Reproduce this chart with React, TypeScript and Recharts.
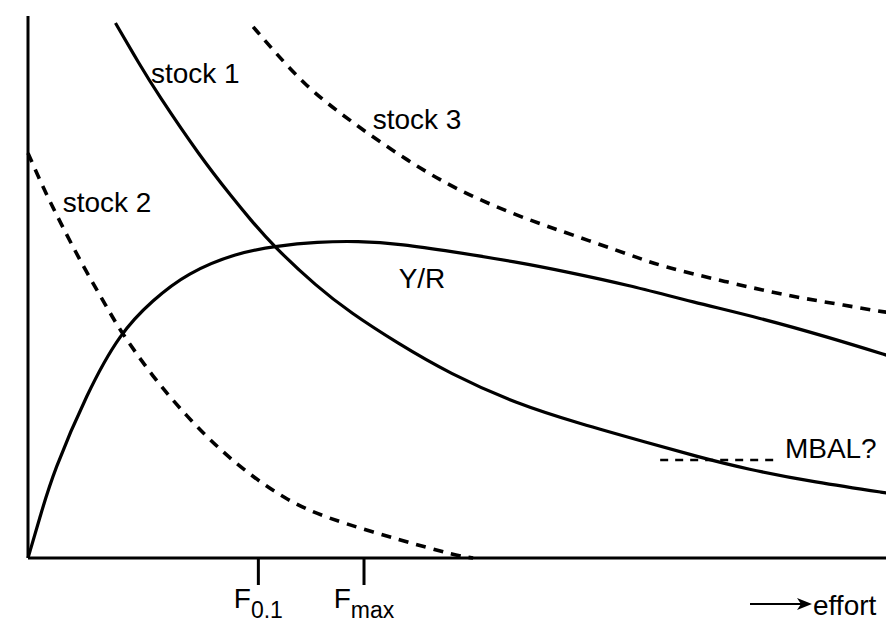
import { LineChart, Line, XAxis, YAxis, ReferenceDot, Label } from 'recharts'

// effort on x (0-100), relative level on y (0-100)
const stock1: [number, number][] = [
  [10.1, 98.7], [12.9, 91.0], [14.9, 85.8], [19.9, 74.0], [23.7, 66.3],
  [25.6, 62.6], [28.3, 57.6], [33.4, 50.0], [37.2, 45.3], [42.6, 39.7],
  [48.7, 34.0], [56.5, 28.4], [63.7, 24.8], [71.5, 21.3], [77.3, 18.7],
  [83.0, 16.4], [90.7, 14.0], [100, 11.8],
]

const stock2: [number, number][] = [
  [0, 74.7], [1.7, 68.5], [3.7, 62.0], [6.4, 53.7], [9.5, 45.2],
  [10.6, 42.1], [14.4, 33.4], [18.4, 26.0], [22.2, 19.9], [26.0, 14.9],
  [29.9, 10.7], [34.3, 7.4], [43.0, 3.3], [49.5, 0.4], [51.4, 0],
]

const stock3: [number, number][] = [
  [26.0, 98.0], [28.3, 93.7], [32.2, 86.9], [36.0, 82.1], [39.8, 77.7],
  [43.8, 73.4], [47.6, 69.7], [51.4, 66.6], [57.2, 62.7], [62.9, 59.6],
  [69.9, 55.7], [73.0, 53.9], [80.7, 50.9], [88.3, 48.2], [93.0, 47.0],
  [98.7, 45.4], [100, 45.2],
]

const yieldPerRecruit: [number, number][] = [
  [0, 0], [1.5, 8.2], [2.9, 15.7], [6.8, 30.4], [10.6, 41.5], [14.4, 47.6],
  [18.4, 52.6], [24.1, 56.3], [28.8, 57.6], [33.4, 58.3], [38.0, 58.5],
  [43.3, 57.9], [48.7, 56.6], [56.5, 54.6], [62.2, 52.8], [69.2, 50.4],
  [76.8, 47.2], [84.5, 44.3], [92.3, 40.8], [100, 37.0],
]

const mbal: [number, number][] = [[73.0, 18.1], [86.3, 18.1]]

const refTicks = [26.6, 38.8]
const refSubscripts = ['0.1', 'max']

const curveLabels = [
  { text: 'stock 1', x: 14.2, y: 87.6 },
  { text: 'stock 2', x: 4.0, y: 63.8 },
  { text: 'stock 3', x: 39.8, y: 79.2 },
  { text: 'Y/R', x: 42.8, y: 49.8 },
  { text: 'MBAL?', x: 87.4, y: 18.4 },
]

const FONT = '"Liberation Sans", Arial, Helvetica, sans-serif'

const toPoints = (pts: [number, number][]) => pts.map(([x, y]) => ({ x, y }))

function FTick({ x, y, payload }: { x?: number; y?: number; payload?: { value: number } }) {
  const i = refTicks.indexOf(payload?.value ?? -1)
  return (
    <text x={x} y={(y ?? 0) + 21} textAnchor="middle" fontFamily={FONT} fontSize={28} fill="#000">
      F
      <tspan fontSize={23} dy={10}>{refSubscripts[i]}</tspan>
    </text>
  )
}

function EffortLabel({ viewBox }: { viewBox?: { x: number; y: number; width: number; height: number } }) {
  if (!viewBox) return null
  const right = viewBox.x + viewBox.width
  const ay = viewBox.y + 46
  return (
    <g>
      <line x1={right - 144} y1={ay} x2={right - 88} y2={ay} stroke="#000" strokeWidth={2} />
      <path d={`M${right - 82},${ay} L${right - 97},${ay - 6} L${right - 93},${ay} L${right - 97},${ay + 6} Z`} fill="#000" />
      <text x={right - 81} y={viewBox.y + 57} fontFamily={FONT} fontSize={28} fill="#000">effort</text>
    </g>
  )
}

export default function App() {
  return (
    <LineChart width={886} height={616} margin={{ top: 8, right: 0, bottom: 0, left: 0 }}>
      <XAxis
        type="number"
        dataKey="x"
        domain={[0, 100]}
        ticks={refTicks}
        tick={<FTick />}
        tickSize={27}
        tickLine={{ stroke: '#000', strokeWidth: 3 }}
        axisLine={{ stroke: '#000', strokeWidth: 3 }}
        height={66}
        interval={0}
      >
        <Label content={<EffortLabel />} />
      </XAxis>
      <YAxis
        type="number"
        domain={[0, 100]}
        width={20}
        tick={false}
        tickLine={false}
        axisLine={{ stroke: '#000', strokeWidth: 3 }}
      />
      <Line data={toPoints(stock1)} dataKey="y" type="basis" stroke="#000" strokeWidth={3.2} dot={false} isAnimationActive={false} />
      <Line data={toPoints(yieldPerRecruit)} dataKey="y" type="basis" stroke="#000" strokeWidth={3.2} dot={false} isAnimationActive={false} />
      <Line data={toPoints(stock2)} dataKey="y" type="basis" stroke="#000" strokeWidth={3.6} strokeDasharray="10 8" dot={false} isAnimationActive={false} />
      <Line data={toPoints(stock3)} dataKey="y" type="basis" stroke="#000" strokeWidth={3.6} strokeDasharray="10 8" dot={false} isAnimationActive={false} />
      <Line data={toPoints(mbal)} dataKey="y" type="linear" stroke="#000" strokeWidth={2.5} strokeDasharray="8 7" dot={false} isAnimationActive={false} />
      {curveLabels.map(l => (
        <ReferenceDot
          key={l.text}
          x={l.x}
          y={l.y}
          r={0}
          ifOverflow="visible"
          shape={(p: { cx?: number; cy?: number }) => (
            <text x={p.cx} y={p.cy} fontFamily={FONT} fontSize={28} fill="#000">{l.text}</text>
          )}
        />
      ))}
    </LineChart>
  )
}
